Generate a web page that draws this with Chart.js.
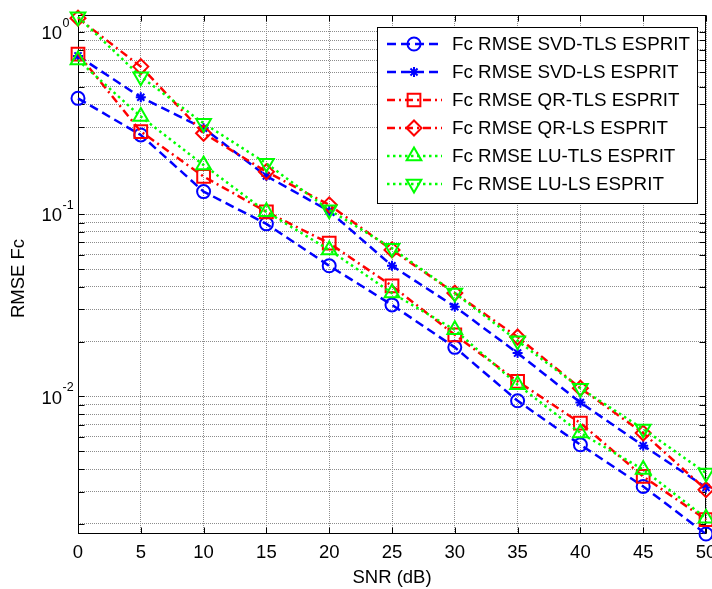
<!DOCTYPE html>
<html><head><meta charset="utf-8">
<script src="https://cdn.jsdelivr.net/npm/chart.js@4.4.1/dist/chart.umd.min.js"></script>
<style>html,body{margin:0;padding:0;background:#fff;}#wrap{width:712px;height:589px;}</style>
</head><body><div id="wrap"><canvas id="c" width="712" height="589"></canvas></div>
<script>
const snr = [0, 5, 10, 15, 20, 25, 30, 35, 40, 45, 50];
const svdTls = [0.432, 0.272, 0.133, 0.0885, 0.0521, 0.0318, 0.0186, 0.00947, 0.00543, 0.00321, 0.00176];
const svdLs  = [0.738, 0.438, 0.296, 0.162, 0.104, 0.0521, 0.0311, 0.0173, 0.00927, 0.00537, 0.00317];
const qrTls  = [0.756, 0.284, 0.161, 0.103, 0.0693, 0.0404, 0.0218, 0.0121, 0.00715, 0.00364, 0.00211];
const qrLs   = [1.19, 0.645, 0.278, 0.171, 0.1125, 0.0637, 0.0369, 0.0212, 0.0111, 0.0063, 0.00308];
const luTls  = [0.701, 0.343, 0.186, 0.103, 0.0637, 0.0369, 0.0232, 0.0116, 0.0063, 0.00397, 0.00215];
const luLs   = [1.21, 0.568, 0.315, 0.19, 0.1056, 0.0651, 0.0369, 0.0202, 0.0111, 0.00663, 0.0038];
const seriesNames = ['Fc RMSE SVD-TLS ESPRIT', 'Fc RMSE SVD-LS ESPRIT', 'Fc RMSE QR-TLS ESPRIT',
                     'Fc RMSE QR-LS ESPRIT', 'Fc RMSE LU-TLS ESPRIT', 'Fc RMSE LU-LS ESPRIT'];
const xTickValues = [0, 5, 10, 15, 20, 25, 30, 35, 40, 45, 50];
const xTickLabels = ['0', '5', '10', '15', '20', '25', '30', '35', '40', '45', '50'];
const yTickValues = [0.002,0.003,0.004,0.005,0.006,0.007,0.008,0.009,
                     0.01,0.02,0.03,0.04,0.05,0.06,0.07,0.08,0.09,
                     0.1,0.2,0.3,0.4,0.5,0.6,0.7,0.8,0.9,1];
const yMajorValues = [1, 0.1, 0.01];
const yMajorExponents = ['0', '-1', '-2'];
const xTitle = 'SNR (dB)';
const yTitle = 'RMSE Fc';

const FONT = '"Liberation Sans", Arial, sans-serif';
const BLUE = '#0000ff', RED = '#ff0000', GREEN = '#00ff00';
const styles = [
  {color: BLUE, dash: [9, 5], pointStyle: 'circle', radius: 6.5, rot: 0},
  {color: BLUE, dash: [9, 5], pointStyle: 'star', radius: 5, rot: 0},
  {color: RED, dash: [8, 4, 2, 4], pointStyle: 'rect', radius: 9, rot: 0},
  {color: RED, dash: [8, 4, 2, 4], pointStyle: 'rectRot', radius: 7.5, rot: 0},
  {color: GREEN, dash: [2.5, 3.5], pointStyle: 'triangle', radius: 8.5, rot: 0},
  {color: GREEN, dash: [2.5, 3.5], pointStyle: 'triangle', radius: 8.5, rot: 180}
];
const seriesValues = [svdTls, svdLs, qrTls, qrLs, luTls, luLs];

const datasets = seriesValues.map((vals, i) => ({
  label: seriesNames[i],
  data: snr.map((x, j) => ({x: x, y: vals[j]})),
  borderColor: styles[i].color,
  borderWidth: 2.5,
  borderDash: styles[i].dash,
  borderCapStyle: 'butt',
  pointStyle: styles[i].pointStyle,
  pointRadius: styles[i].radius,
  pointRotation: styles[i].rot,
  pointBorderColor: styles[i].color,
  pointBackgroundColor: 'rgba(0,0,0,0)',
  pointBorderWidth: 2,
  fill: false,
  tension: 0,
  clip: false,
  order: 10 - i
}));

const framePlugin = {
  id: 'frame',
  beforeDatasetsDraw(chart) {
    const {ctx, chartArea: a, scales: {x, y}} = chart;
    ctx.save();
    ctx.strokeStyle = '#000';
    ctx.lineWidth = 1;
    const L = Math.round(a.left) + 0.5, R = Math.round(a.right) - 0.5;
    const T = Math.round(a.top) + 0.5, B = Math.round(a.bottom) - 0.5;
    ctx.strokeRect(L, T, R - L, B - T);
    ctx.beginPath();
    xTickValues.forEach(v => {
      const px = Math.round(x.getPixelForValue(v)) + 0.5;
      ctx.moveTo(px, B); ctx.lineTo(px, B - 6);
      ctx.moveTo(px, T); ctx.lineTo(px, T + 6);
    });
    yTickValues.forEach(v => {
      const py = Math.round(y.getPixelForValue(v)) + 0.5;
      ctx.moveTo(L, py); ctx.lineTo(L + 6, py);
      ctx.moveTo(R, py); ctx.lineTo(R - 6, py);
    });
    ctx.stroke();
    ctx.fillStyle = '#000';
    // x tick labels
    ctx.font = '18.5px ' + FONT;
    ctx.textAlign = 'center';
    ctx.textBaseline = 'middle';
    xTickValues.forEach((v, i) => {
      ctx.fillText(xTickLabels[i], x.getPixelForValue(v), a.bottom + 19);
    });
    // y tick labels 10^n
    yMajorValues.forEach((v, i) => {
      const py = y.getPixelForValue(v);
      ctx.font = '18.5px ' + FONT;
      ctx.textAlign = 'right';
      ctx.textBaseline = 'middle';
      ctx.fillText('10', a.left - 16, py + 2);
      ctx.font = '12.5px ' + FONT;
      ctx.textAlign = 'left';
      ctx.fillText(yMajorExponents[i], a.left - 15.5, py - 8.5);
    });
    // y title
    ctx.save();
    ctx.translate(19, (a.top + a.bottom) / 2 + 4);
    ctx.rotate(-Math.PI / 2);
    ctx.font = '18.5px ' + FONT;
    ctx.textAlign = 'center';
    ctx.textBaseline = 'middle';
    ctx.fillText(yTitle, 0, 0);
    ctx.restore();
    ctx.restore();
  },
  afterDatasetsDraw(chart) {
    const {ctx} = chart;
    const meta = chart.data.datasets;
    ctx.save();
    const bx = 377, by = 27, bw = 320, bh = 176;
    ctx.fillStyle = '#fff';
    ctx.fillRect(bx, by, bw, bh);
    ctx.strokeStyle = '#000';
    ctx.lineWidth = 1;
    ctx.strokeRect(bx + 0.5, by + 0.5, bw, bh);
    meta.forEach((ds, i) => {
      const ry = 44 + i * 28;
      ctx.save();
      ctx.strokeStyle = ds.borderColor;
      ctx.lineWidth = ds.borderWidth;
      ctx.setLineDash(ds.borderDash);
      ctx.lineCap = 'butt';
      ctx.beginPath();
      ctx.moveTo(387, ry); ctx.lineTo(442, ry);
      ctx.stroke();
      ctx.setLineDash([]);
      ctx.fillStyle = 'rgba(0,0,0,0)';
      ctx.lineWidth = ds.pointBorderWidth;
      Chart.helpers.drawPoint(ctx, {pointStyle: ds.pointStyle, rotation: ds.pointRotation,
        radius: ds.pointRadius, borderWidth: ds.pointBorderWidth}, 414, ry);
      ctx.restore();
      ctx.fillStyle = '#000';
      ctx.font = '18.8px ' + FONT;
      ctx.textAlign = 'left';
      ctx.textBaseline = 'middle';
      ctx.fillText(ds.label, 452, ry + 1);
    });
    ctx.restore();
  }
};

new Chart(document.getElementById('c'), {
  type: 'line',
  data: {datasets: datasets},
  options: {
    responsive: false,
    animation: false,
    devicePixelRatio: 1,
    layout: {autoPadding: false, padding: {top: 15, right: 6, left: 0, bottom: 0}},
    plugins: {legend: {display: false}, tooltip: {enabled: false}},
    scales: {
      x: {
        type: 'linear', min: 0, max: 50,
        afterBuildTicks: s => { s.ticks = xTickValues.map(v => ({value: v})); },
        afterFit: s => { s.height = 55; s.paddingLeft = 0; s.paddingRight = 0; },
        grid: {color: '#8c8c8c', lineWidth: 1, drawTicks: false},
        border: {display: false, dash: [1, 1]},
        ticks: {display: false},
        title: {display: true, text: xTitle, color: '#000', font: {family: FONT, size: 18.5}, padding: {top: 0, bottom: 0}}
      },
      y: {
        type: 'logarithmic', min: 0.00176, max: 1.238,
        afterBuildTicks: s => { s.ticks = yTickValues.map(v => ({value: v})); },
        afterFit: s => { s.width = 78; s.paddingTop = 0; s.paddingBottom = 0; },
        grid: {color: '#8c8c8c', lineWidth: 1, drawTicks: false},
        border: {display: false, dash: [1, 1]},
        ticks: {display: false},
        title: {display: false}
      }
    }
  },
  plugins: [framePlugin]
});
</script></body></html>
